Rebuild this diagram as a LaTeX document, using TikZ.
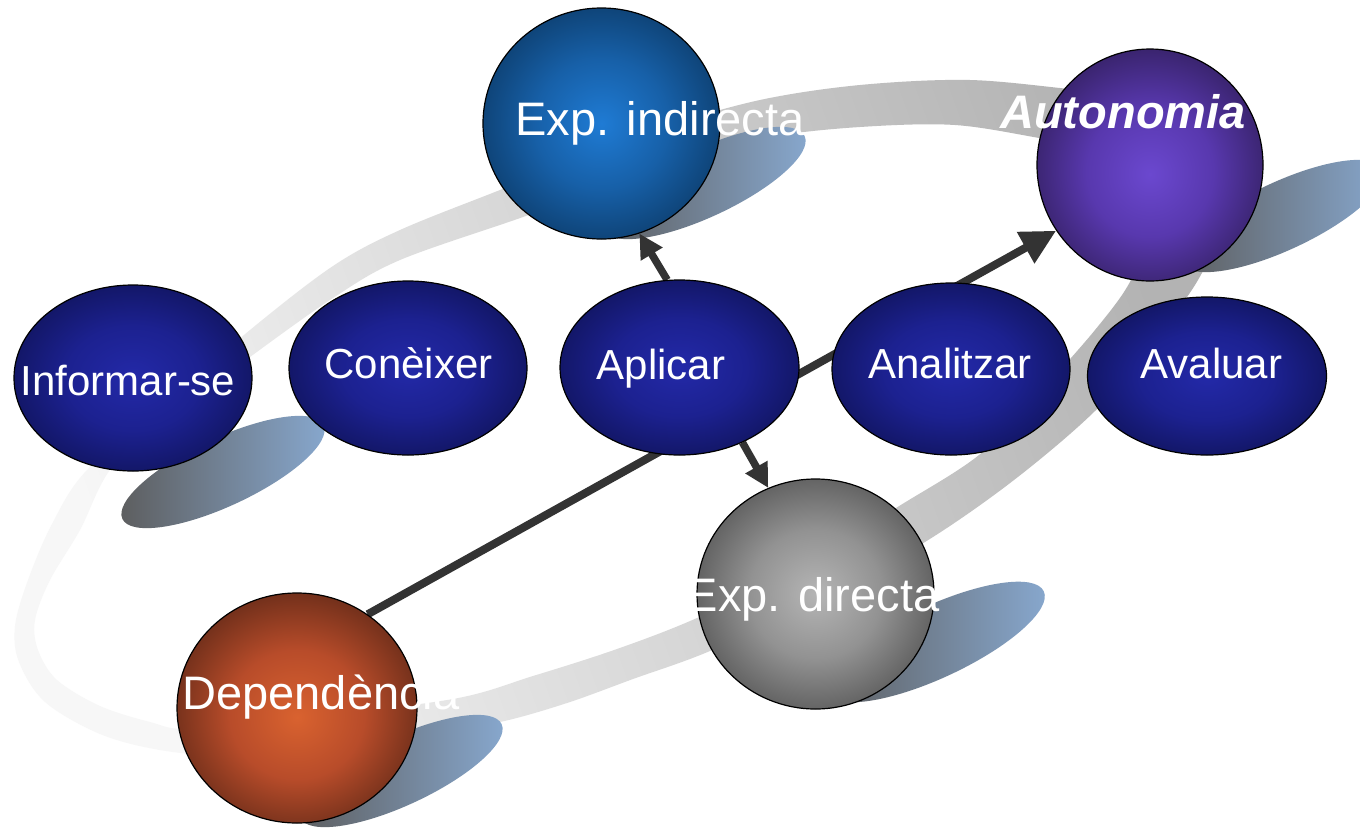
\documentclass[tikz,border=0pt]{standalone}
\usepackage{fontspec}
\setmainfont{Liberation Sans}
\usetikzlibrary{shapes.geometric,arrows.meta}
\pgfdeclarelayer{ringlayer}
\pgfdeclarelayer{shadowlayer}
\pgfdeclarelayer{linelayer}
\pgfsetlayers{ringlayer,shadowlayer,linelayer,main}
% sphere colours
\definecolor{bbA}{HTML}{2329A8}\definecolor{bbB}{HTML}{1C2190}\definecolor{bbC}{HTML}{121665}\definecolor{bbD}{HTML}{070928}
\definecolor{eiA}{HTML}{1F7BD4}\definecolor{eiB}{HTML}{1760A8}\definecolor{eiC}{HTML}{0E4275}\definecolor{eiD}{HTML}{08243E}
\definecolor{auA}{HTML}{6B48CF}\definecolor{auB}{HTML}{5838AE}\definecolor{auC}{HTML}{3A246F}\definecolor{auD}{HTML}{1E1338}
\definecolor{edA}{HTML}{B5B5B5}\definecolor{edB}{HTML}{929292}\definecolor{edC}{HTML}{606060}\definecolor{edD}{HTML}{333333}
\definecolor{dpA}{HTML}{D9622F}\definecolor{dpB}{HTML}{B84C2A}\definecolor{dpC}{HTML}{73301B}\definecolor{dpD}{HTML}{341006}
\definecolor{ringL}{HTML}{F7F7F7}\definecolor{ringR}{HTML}{B3B3B3}
\definecolor{shadowL}{HTML}{5C5C5C}\definecolor{shadowR}{HTML}{88A9D0}
\definecolor{linegray}{HTML}{333333}
\pgfdeclareradialshading{ballblue}{\pgfpoint{0bp}{0bp}}{color(0bp)=(bbA); color(14bp)=(bbB); color(26bp)=(bbC); color(35bp)=(bbD); color(50bp)=(bbD)}
\pgfdeclareradialshading{ballexpi}{\pgfpoint{0bp}{0bp}}{color(0bp)=(eiA); color(14bp)=(eiB); color(26bp)=(eiC); color(35bp)=(eiD); color(50bp)=(eiD)}
\pgfdeclareradialshading{ballauto}{\pgfpoint{0bp}{-2bp}}{color(0bp)=(auA); color(14bp)=(auB); color(26bp)=(auC); color(35bp)=(auD); color(50bp)=(auD)}
\pgfdeclareradialshading{ballexpd}{\pgfpoint{0bp}{0bp}}{color(0bp)=(edA); color(14bp)=(edB); color(26bp)=(edC); color(35bp)=(edD); color(50bp)=(edD)}
\pgfdeclareradialshading{balldep}{\pgfpoint{0bp}{-2bp}}{color(0bp)=(dpA); color(14bp)=(dpB); color(26bp)=(dpC); color(35bp)=(dpD); color(50bp)=(dpD)}
\tikzset{
  sphere/.style={ellipse, draw=black, line width=1.2pt, inner sep=0pt, shade},
  txt/.style={text=white, inner sep=0pt, anchor=base, font=\fontsize{42}{50}\selectfont},
  bigtxt/.style={txt, font=\fontsize{47}{55}\selectfont},
  shadowsty/.style={left color=shadowL, right color=shadowR},
  bigarrow/.style={draw=linegray, line width=8pt, -{Triangle[length=35pt,width=34pt]}},
  smallarrow/.style={draw=linegray, line width=7.5pt, -{Triangle[length=24pt,width=24pt]}}
}
\begin{document}
\begin{tikzpicture}[x=1pt,y=-1pt]
\useasboundingbox (0,0) rectangle (1360,836);

% background and ring band
\begin{pgfonlayer}{ringlayer}
\fill[white] (0,0) rectangle (1360,836);
\shade[even odd rule, left color=ringL, right color=ringR, shading angle=110]
  plot[smooth cycle, tension=0.55] coordinates {
    (1080,90) (970,80) (860,85) (760,100) (660,128) (580,158) (500,190) (400,230)
    (333,266) (250,330) (170,400) (87,470) (52,524) (28,580) (15,626) (19,662)
    (45,702) (100,734) (160,750) (230,756) (320,748) (420,735) (500,722) (567,703)
    (633,679) (710,651) (820,600) (925,542) (1014,480) (1096,410) (1150,345)
    (1198,280) (1228,210) (1230,150) (1200,110) (1150,95)}
  plot[smooth cycle, tension=0.55] coordinates {
    (1045,139) (955,125) (860,127) (770,137) (680,160) (600,188) (523,217) (400,260)
    (333,298) (250,357) (180,410) (113,466) (80,530) (50,580) (35,620) (38,650)
    (57,680) (100,706) (150,722) (190,729) (300,718) (453,699) (533,676) (617,649)
    (697,618) (800,568) (896,508) (979,455) (1040,392) (1095,330) (1131,280)
    (1152,220) (1145,178) (1108,150)};
\end{pgfonlayer}

% shadows
\begin{pgfonlayer}{shadowlayer}
\shade[shadowsty, shift={(223,472)}, rotate=25] (0,0) ellipse [x radius=111pt, y radius=34pt];
\shade[shadowsty, shift={(704,183)}, rotate=25] (0,0) ellipse [x radius=111pt, y radius=34pt];
\shade[shadowsty, shift={(1282,216)}, rotate=25] (0,0) ellipse [x radius=111pt, y radius=34pt];
\shade[shadowsty, shift={(935,642)}, rotate=25] (0,0) ellipse [x radius=120pt, y radius=36pt];
\shade[shadowsty, shift={(401,771)}, rotate=25] (0,0) ellipse [x radius=111pt, y radius=34pt];
\end{pgfonlayer}

% spheres
\node[sphere, shading=ballblue, minimum width=238pt, minimum height=186pt] (inf) at (133,378) {};
\node[sphere, shading=ballblue, minimum width=238pt, minimum height=174pt] (con) at (408,368) {};
\node[sphere, shading=ballblue, minimum width=239pt, minimum height=175pt] (apl) at (679.5,367.5) {};
\node[sphere, shading=ballblue, minimum width=238pt, minimum height=172pt] (ana) at (951,369) {};
\node[sphere, shading=ballblue, minimum width=239pt, minimum height=158pt] (ava) at (1207,376) {};
\node[sphere, shading=ballexpi, minimum width=237pt, minimum height=231pt] (expi) at (601.5,123.5) {};
\node[sphere, shading=ballauto, minimum width=226pt, minimum height=232pt] (auto) at (1150,165) {};
\node[sphere, shading=ballexpd, minimum width=237pt, minimum height=230pt] (expd) at (815.5,594) {};
\node[sphere, shading=balldep, minimum width=240pt, minimum height=230pt] (dep) at (297,708) {};

% connectors
\begin{pgfonlayer}{linelayer}
\draw[bigarrow] (dep.53) -- (auto.215);
\draw[smallarrow] (apl.98) -- (expi.289);
\draw[smallarrow] (apl.-50) -- (expd.114);
\end{pgfonlayer}

% texts
\node[txt] (tinf) at (128,395) {Informar-se};
\node[txt] (tcon) at (408.5,378) {Conèixer};
\node[txt] (tapl) at (661,379) {Aplicar};
\node[txt] (tana) at (950,378) {Analitzar};
\node[txt] (tava) at (1211.5,378) {Avaluar};
\node[bigtxt] (texpi) at (660,135) {Exp. indirecta};
\node[bigtxt, font=\fontsize{47}{55}\selectfont\bfseries\itshape] (tauto) at (1123,128) {Autonomia};
\node[bigtxt] (texpd) at (813,611) {Exp. directa};
\node[bigtxt] (tdep) at (321,709) {Dependència};
\end{tikzpicture}
\end{document}
